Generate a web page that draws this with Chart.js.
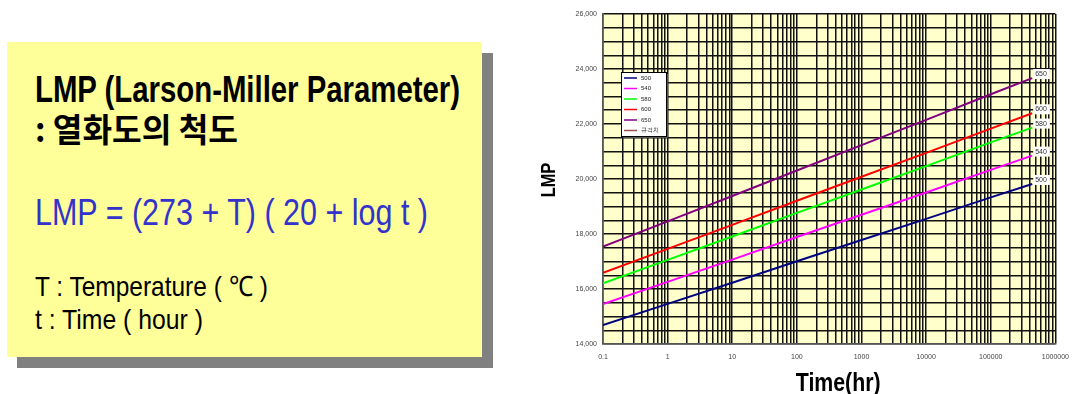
<!DOCTYPE html>
<html>
<head>
<meta charset="utf-8">
<script src="https://cdn.jsdelivr.net/npm/chart.js@4"></script>
<style>
body { margin: 0; background: #fff; width: 1078px; height: 394px; overflow: hidden; position: relative; }
#shadow { position: absolute; left: 17px; top: 53px; width: 476px; height: 315px; background: #808080; }
#box { position: absolute; left: 7px; top: 42px; width: 475px; height: 315px; background: #ffff99; }
.t { position: absolute; left: 35px; white-space: nowrap; line-height: 1; transform-origin: 0 0;
     font-family: 'Liberation Sans Narrow', 'Liberation Sans', Arial, sans-serif; color: #000; }
#wrap { position: absolute; left: 530px; top: 0; width: 548px; height: 394px; }
</style>
</head>
<body>
<div id="shadow"></div>
<div id="box"></div>
<div class="t" data-w="425" style="top:72px;font-size:36px;font-weight:bold">LMP (Larson-Miller Parameter)</div>
<div class="t" data-w="203" style="top:112px;font-size:33px;font-weight:bold;font-family:'Noto Sans CJK KR',sans-serif">: 열화도의 척도</div>
<div class="t" data-w="393" style="top:194px;font-size:37px;color:#3333cc">LMP = (273 + T) ( 20 + log t )</div>
<div class="t" data-w="233" style="top:273px;font-size:28px">T : Temperature ( ℃ )</div>
<div class="t" data-w="168" style="top:306px;font-size:28px">t : Time ( hour )</div>
<div id="wrap"><canvas id="canvas"></canvas></div>
<script>
// values
var times = [0.1, 1, 10, 100, 1000, 10000, 100000, 438000];
var temps = ['500', '540', '580', '600', '650'];
var lmp500 = [14690, 15460, 16230, 17010, 17780, 18550, 19330, 19820];
var lmp540 = [15450, 16260, 17070, 17890, 18700, 19510, 20330, 20850];
var lmp580 = [16210, 17060, 17910, 18770, 19620, 20470, 21330, 21870];
var lmp600 = [16590, 17460, 18330, 19210, 20080, 20950, 21830, 22390];
var lmp650 = [17540, 18460, 19380, 20310, 21230, 22150, 23080, 23670];
var specLabel = '규격치';
var xTickLabels = ['0.1', '1', '10', '100', '1000', '10000', '100000', '1000000'];
var yTickLabels = ['14,000', '16,000', '18,000', '20,000', '22,000', '24,000', '26,000'];
var xTitle = 'Time(hr)';
var yTitle = 'LMP';
var colors = ['#000080', '#ff00ff', '#00ff00', '#ff0000', '#800080', '#a0524a'];

document.querySelectorAll('.t').forEach(function(el) {
  var w = el.getBoundingClientRect().width;
  el.style.transform = 'scaleX(' + (Number(el.dataset.w) / w) + ')';
});

function points(vals) {
  return vals.map(function(v, i) { return {x: times[i], y: v}; });
}

var series = [lmp500, lmp540, lmp580, lmp600, lmp650];
var datasets = series.map(function(s, i) {
  return { label: temps[i], data: points(s), borderColor: colors[i], borderWidth: 2, pointRadius: 0, fill: false };
});
datasets.push({ label: specLabel, data: [], borderColor: colors[5], borderWidth: 1.5, pointRadius: 0 });

// minor log grid: 1..9 per decade
var xGrid = [];
for (var d = -1; d <= 5; d++) {
  for (var k = 1; k <= 9; k++) {
    xGrid.push(Math.round(k * Math.pow(10, d) * 10) / 10);
  }
}
xGrid.push(1000000);

var bgPlugin = {
  id: 'bg',
  beforeDraw: function(chart) {
    var a = chart.chartArea, c = chart.ctx;
    c.save();
    c.fillStyle = '#ffffcc';
    c.fillRect(a.left, a.top, a.right - a.left, a.bottom - a.top);
    c.restore();
  }
};

var labelPlugin = {
  id: 'labels',
  afterDraw: function(chart) {
    var c = chart.ctx, a = chart.chartArea;
    c.save();
    c.font = '7px "Liberation Sans", Arial, sans-serif';
    c.textBaseline = 'middle';
    // end-of-line labels
    for (var i = 0; i < temps.length; i++) {
      var meta = chart.getDatasetMeta(i);
      var pt = meta.data[meta.data.length - 1];
      var w = c.measureText(temps[i]).width;
      c.fillStyle = '#fff';
      c.fillRect(pt.x + 1, pt.y - 9, w + 5, 10);
      c.fillStyle = '#333';
      c.fillText(temps[i], pt.x + 3, pt.y - 4);
    }
    // legend box inside plot
    var lx = a.left + 18, ly = a.top + 58, lw = 45, lh = 64;
    c.fillStyle = '#555';
    c.fillRect(lx + 2, ly + 2, lw, lh);
    c.fillStyle = '#fff';
    c.fillRect(lx, ly, lw, lh);
    c.strokeStyle = '#000';
    c.lineWidth = 1;
    c.strokeRect(lx + 0.5, ly + 0.5, lw, lh);
    c.font = '6px "Liberation Sans", Arial, sans-serif';
    chart.data.datasets.forEach(function(ds, j) {
      var y = ly + 6 + j * 10.5;
      c.strokeStyle = ds.borderColor;
      c.lineWidth = 1.5;
      c.beginPath();
      c.moveTo(lx + 3, y);
      c.lineTo(lx + 16, y);
      c.stroke();
      c.fillStyle = '#222';
      c.fillText(ds.label, lx + 20, y);
    });
    // axis titles, narrow bold
    c.fillStyle = '#000';
    c.textAlign = 'center';
    c.textBaseline = 'alphabetic';
    c.font = 'bold 26px "Liberation Sans", Arial, sans-serif';
    c.save();
    c.translate(a.left + (a.right - a.left) / 2 + 9, 391);
    c.scale(0.82, 1);
    c.fillText(xTitle, 0, 0);
    c.restore();
    c.font = 'bold 20px "Liberation Sans", Arial, sans-serif';
    c.save();
    c.translate(25, (a.top + a.bottom) / 2 + 1);
    c.rotate(-Math.PI / 2);
    c.scale(0.82, 1);
    c.fillText(yTitle, 0, 0);
    c.restore();
    c.restore();
  }
};

var ctx = canvas.getContext('2d');
var config = {
  type: 'line',
  data: { datasets: datasets },
  options: {
    responsive: true,
    maintainAspectRatio: false,
    animation: false,
    layout: { padding: { top: 14, right: 18, left: 0, bottom: 0 } },
    plugins: { legend: { display: false }, tooltip: { enabled: false } },
    scales: {
      x: {
        type: 'logarithmic',
        min: 0.1,
        max: 1000000,
        afterBuildTicks: function(axis) {
          axis.ticks = xGrid.map(function(v) { return { value: v }; });
        },
        afterFit: function(axis) { axis.height = 50; },
        grid: { color: '#111', lineWidth: 1.5, drawTicks: false },
        border: { color: '#555', width: 1.5 },
        ticks: {
          autoSkip: false,
          maxRotation: 0,
          padding: 9,
          color: '#444',
          font: { size: 7, family: '"Liberation Sans", Arial, sans-serif' },
          callback: function(value) {
            var l = xTickLabels.find(function(t) { return Number(t) === value; });
            return l || '';
          }
        }
      },
      y: {
        min: 14000,
        max: 26000,
        afterFit: function(axis) { axis.width = 73; },
        grid: { color: '#111', lineWidth: 1.5, drawTicks: false },
        border: { color: '#555', width: 1.5 },
        ticks: {
          stepSize: 500,
          autoSkip: false,
          padding: 6,
          color: '#444',
          font: { size: 7, family: '"Liberation Sans", Arial, sans-serif' },
          callback: function(value) {
            var l = yTickLabels.find(function(t) { return Number(t.replace(/,/g, '')) === value; });
            return l || '';
          }
        }
      }
    }
  },
  plugins: [bgPlugin, labelPlugin]
};

var chart = new Chart(ctx, config);
</script>
</body>
</html>
